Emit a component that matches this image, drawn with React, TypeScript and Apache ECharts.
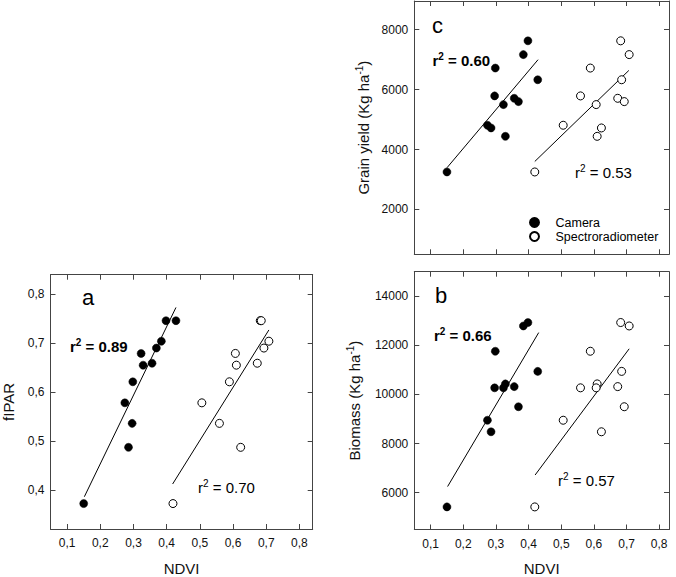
import React, { useEffect, useRef } from "react";
import * as echarts from "echarts";

// 12 plots, measured by both sensors
const cameraNDVI = [0.150, 0.274, 0.285, 0.296, 0.298, 0.329, 0.323, 0.356, 0.369, 0.384, 0.398, 0.428];
const spectroNDVI = [0.419, 0.506, 0.623, 0.559, 0.589, 0.610, 0.607, 0.673, 0.693, 0.708, 0.682, 0.685];
const fIPAR = [0.372, 0.578, 0.487, 0.536, 0.621, 0.655, 0.679, 0.659, 0.690, 0.704, 0.746, 0.746];
const biomass = [5420, 8950, 8480, 10270, 11760, 10430, 10270, 10320, 9500, 12790, 12930, 10940];
const grainYield = [3250, 4810, 4720, 5790, 6720, 4440, 5500, 5710, 5600, 7170, 7630, 6330];

// regression line end points [x0, x1], [y0, y1]
const fitA_camX = [0.152, 0.428];
const fitA_camY = [0.386, 0.773];
const fitA_speX = [0.418, 0.708];
const fitA_speY = [0.412, 0.727];
const fitB_camX = [0.152, 0.431];
const fitB_camY = [6250, 12520];
const fitB_speX = [0.420, 0.708];
const fitB_speY = [6720, 11860];
const fitC_camX = [0.150, 0.429];
const fitC_camY = [3390, 7000];
const fitC_speX = [0.419, 0.707];
const fitC_speY = [3600, 6640];

const ndviTicks = [0.1, 0.2, 0.3, 0.4, 0.5, 0.6, 0.7, 0.8];
const fiparTicks = [0.4, 0.5, 0.6, 0.7, 0.8];
const biomassTicks = [6000, 8000, 10000, 12000, 14000];
const yieldTicks = [2000, 4000, 6000, 8000];

const r2 = { a: ["0.89", "0.70"], b: ["0.66", "0.57"], c: ["0.60", "0.53"] };

const FONT = "Liberation Sans, Arial, Helvetica, sans-serif";
const FRAME = "#444";

const zip = (xs: number[], ys: number[]) => xs.map((x, i) => [x, ys[i]]);
const comma = (v: number) => v.toFixed(1).replace(".", ",");

export default function App() {
  const ref = useRef<HTMLDivElement>(null);
  useEffect(() => {
    if (!ref.current) return;
    const chart = echarts.init(ref.current, undefined, { renderer: "svg" });

    const grids = [
      { left: 50, top: 274.7, width: 262.7, height: 254.3 },
      { left: 414.3, top: 271.7, width: 254.7, height: 258.3 },
      { left: 414.3, top: 1, width: 254.7, height: 253.3 },
    ];
    const xRanges = [
      [0.05, 0.84],
      [0.05, 0.83],
      [0.05, 0.83],
    ];
    const yRanges = [
      [0.32, 0.84],
      [4500, 15000],
      [500, 8960],
    ];
    const yTicks = [fiparTicks, biomassTicks, yieldTicks];
    const yFmt = [comma, (v: number) => String(v), (v: number) => String(v)];

    const tick = (vals: number[]) => ({
      show: true,
      inside: true,
      length: 5,
      customValues: vals,
      lineStyle: { color: FRAME, width: 1 },
    });
    const line = { show: true, onZero: false, lineStyle: { color: FRAME, width: 1 } };
    const labelStyle = { fontFamily: FONT, fontSize: 12, color: "#111" };
    const nameStyle = { fontFamily: FONT, fontSize: 15, color: "#111", verticalAlign: "middle" as const,
      rich: { s: { fontFamily: FONT, fontSize: 10, verticalAlign: "top" as const, lineHeight: 18, color: "#111" },
              n: { fontFamily: FONT, fontSize: 15, lineHeight: 18, color: "#111" } } };

    const xAxis: any[] = [];
    const yAxis: any[] = [];
    for (let i = 0; i < 3; i++) {
      xAxis.push({
        type: "value", gridIndex: i, position: "bottom",
        min: xRanges[i][0], max: xRanges[i][1],
        axisLine: line, axisTick: tick(ndviTicks), splitLine: { show: false },
        axisLabel: { show: i !== 2, customValues: ndviTicks, formatter: comma, margin: 8, ...labelStyle },
        name: i !== 2 ? "NDVI" : "", nameLocation: "middle", nameGap: 39, nameTextStyle: { fontFamily: FONT, fontSize: 15, color: "#111", verticalAlign: "middle" },
      });
    }
    for (let i = 0; i < 3; i++) {
      xAxis.push({
        type: "value", gridIndex: i, position: "top",
        min: xRanges[i][0], max: xRanges[i][1],
        axisLine: line, axisTick: tick(ndviTicks), splitLine: { show: false }, axisLabel: { show: false },
      });
    }
    const yNames = ["fIPAR", "{n|Biomass (Kg ha}{s|-1}{n|)}", "{n|Grain yield (Kg ha}{s|-1}{n|)}"];
    const yGaps = [42, 60, 51];
    for (let i = 0; i < 3; i++) {
      yAxis.push({
        type: "value", gridIndex: i, position: "left",
        min: yRanges[i][0], max: yRanges[i][1],
        axisLine: line, axisTick: tick(yTicks[i]), splitLine: { show: false },
        axisLabel: { customValues: yTicks[i], formatter: yFmt[i], margin: 6, ...labelStyle },
        name: yNames[i], nameLocation: "middle", nameGap: yGaps[i], nameTextStyle: nameStyle,
      });
    }
    for (let i = 0; i < 3; i++) {
      yAxis.push({
        type: "value", gridIndex: i, position: "right",
        min: yRanges[i][0], max: yRanges[i][1],
        axisLine: line, axisTick: tick(yTicks[i]), splitLine: { show: false }, axisLabel: { show: false },
      });
    }

    const yData = [fIPAR, biomass, grainYield];
    const fits = [
      [zip(fitA_camX, fitA_camY), zip(fitA_speX, fitA_speY)],
      [zip(fitB_camX, fitB_camY), zip(fitB_speX, fitB_speY)],
      [zip(fitC_camX, fitC_camY), zip(fitC_speX, fitC_speY)],
    ];
    const series: any[] = [];
    for (let i = 0; i < 3; i++) {
      for (const f of fits[i]) {
        series.push({
          type: "line", xAxisIndex: i, yAxisIndex: i, data: f, symbol: "none", silent: true,
          lineStyle: { color: "#000", width: 1 }, z: 1,
        });
      }
      series.push({
        name: "Camera", type: "scatter", xAxisIndex: i, yAxisIndex: i,
        data: zip(cameraNDVI, yData[i]), symbol: "circle", symbolSize: 8,
        itemStyle: { color: "#000", borderColor: "#000", borderWidth: 0.5, opacity: 1 }, z: 3,
      });
      series.push({
        name: "Spectroradiometer", type: "scatter", xAxisIndex: i, yAxisIndex: i,
        data: zip(spectroNDVI, yData[i]), symbol: "circle", symbolSize: 8,
        itemStyle: { color: "#fff", borderColor: "#000", borderWidth: 1, opacity: 1 }, z: 3,
      });
    }

    const r2Text = (val: string, bold: boolean, x: number, y: number) => ({
      type: "text", x, y,
      style: {
        text: `{r|r}{s|2}{r| = ${val}}`,
        align: "left", verticalAlign: "middle",
        rich: {
          r: { fontFamily: FONT, fontSize: 15, fontWeight: bold ? "bold" : "normal", fill: "#000", lineHeight: 18 },
          s: { fontFamily: FONT, fontSize: 10, fontWeight: bold ? "bold" : "normal", fill: "#000", lineHeight: 18, verticalAlign: "top" },
        },
      },
    });
    const letter = (t: string, x: number, y: number) => ({
      type: "text", x, y,
      style: { text: t, fontFamily: FONT, fontSize: 22, fill: "#000", align: "left", verticalAlign: "middle" },
    });

    chart.setOption({
      animation: false,
      backgroundColor: "#fff",
      grid: grids.map((g) => ({ ...g, show: false, containLabel: false })),
      xAxis, yAxis, series,
      legend: {
        data: ["Camera", "Spectroradiometer"],
        orient: "vertical", left: 524, top: 211, itemWidth: 32, itemHeight: 9, itemGap: 1,
        textStyle: { fontFamily: FONT, fontSize: 12.5, lineHeight: 13, color: "#000" },
        selectedMode: false,
      },
      graphic: [
        letter("a", 82, 297),
        letter("b", 435, 295),
        letter("c", 432, 25),
        r2Text(r2.a[0], true, 70, 346),
        r2Text(r2.a[1], false, 198, 487.5),
        r2Text(r2.b[0], true, 434, 335.5),
        r2Text(r2.b[1], false, 558, 480),
        r2Text(r2.c[0], true, 432.5, 60),
        r2Text(r2.c[1], false, 575, 172),
      ],
    });
    return () => chart.dispose();
  }, []);
  return <div ref={ref} style={{ position: "fixed", left: 0, top: 0, width: 676, height: 577 }} />;
}
